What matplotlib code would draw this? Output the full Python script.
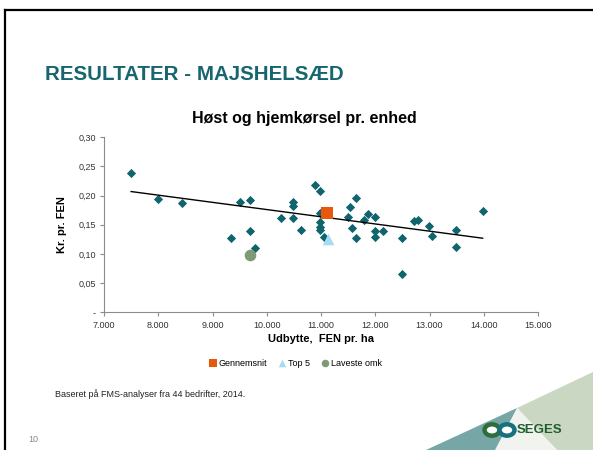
"""
Scatter of harvest cost per FEN vs. yield for maize silage (slide 10).
Saves out.png.
"""

import matplotlib

matplotlib.use("Agg")
import matplotlib.pyplot as plt
from matplotlib.patches import Circle, Polygon

plt.rcParams["font.family"] = ["Liberation Sans", "DejaVu Sans"]

# yield (FEN/ha) and cost (kr./FEN) per farm
yield_fen = [
    7500, 8000, 8440, 9350, 9500, 9700, 9700, 9790, 10270, 10490,
    10490, 10490, 10640, 10890, 10990, 10990, 10990, 10990, 10990, 11050,
    11500, 11540, 11580, 11640, 11640, 11790, 11870, 11990, 11990, 11990,
    12140, 12490, 12490, 12710, 12790, 12990, 13040, 13490, 13490, 13980,
]
cost_fen = [
    0.239, 0.194, 0.187, 0.127, 0.189, 0.192, 0.140, 0.111, 0.162, 0.189,
    0.182, 0.162, 0.141, 0.219, 0.208, 0.170, 0.155, 0.146, 0.141, 0.129,
    0.164, 0.180, 0.145, 0.196, 0.128, 0.158, 0.168, 0.163, 0.139, 0.129,
    0.140, 0.127, 0.065, 0.156, 0.159, 0.148, 0.131, 0.141, 0.112, 0.173,
]

# linear trendline as drawn in the source chart
trend_x = [7500, 13980]
trend_y = [0.207, 0.127]

avg_point = (11110, 0.170)    # Gennemsnit
top5_point = (11120, 0.125)   # Top 5
lowest_point = (9690, 0.099)  # Laveste omk

x_ticks = [7000, 8000, 9000, 10000, 11000, 12000, 13000, 14000, 15000]
y_ticks = [0.0, 0.05, 0.10, 0.15, 0.20, 0.25, 0.30]

TEAL = "#0f646e"
AXIS_GRAY = "#8c8c8c"

fig = plt.figure(figsize=(5.93, 4.5), dpi=100)
W, H = 593, 450


def fx(px):
    return px / W


def fy(py):
    return 1 - py / H


# slide frame
fig.add_artist(plt.Line2D([fx(5), fx(5)], [fy(10), 0], color="black", lw=1.6,
                          transform=fig.transFigure))
fig.add_artist(plt.Line2D([fx(5), 1], [fy(10), fy(10)], color="black", lw=1.6,
                          transform=fig.transFigure))

fig.text(fx(45), fy(75), "RESULTATER - MAJSHELSÆD", color="#17666f",
         fontsize=14.8, fontweight="bold", va="center", ha="left")

fig.text(fx(304), fy(118), "Høst og hjemkørsel pr. enhed", fontsize=11.5,
         fontweight="bold", ha="center", va="center")

ax = fig.add_axes([fx(104), fy(312.3), fx(538 - 104), (312.3 - 137.3) / H])

ax.scatter(yield_fen, cost_fen, marker="D", s=22, color=TEAL, linewidths=0, zorder=3)
ax.plot(trend_x, trend_y, color="black", lw=1.0, zorder=4)

ax.scatter(*avg_point, marker="s", s=70, color="#e8580c", linewidths=0, zorder=5,
           label="Gennemsnit")
ax.scatter(*top5_point, marker="^", s=70, color="#a6dbf5", linewidths=0, zorder=5,
           label="Top 5")
ax.scatter(*lowest_point, marker="o", s=70, color="#7e9b76", linewidths=0, zorder=5,
           label="Laveste omk")

ax.set_xlim(7000, 15000)
ax.set_ylim(0, 0.30)
ax.set_xticks(x_ticks)
ax.set_xticklabels([f"{v:,}".replace(",", ".") for v in x_ticks])
ax.set_yticks(y_ticks)
ax.set_yticklabels(["-"] + [f"{v:.2f}".replace(".", ",") for v in y_ticks[1:]])
ax.tick_params(labelsize=6.5, colors=AXIS_GRAY, labelcolor="#333333",
               length=3, width=0.8, pad=3)
for side in ("top", "right"):
    ax.spines[side].set_visible(False)
for side in ("left", "bottom"):
    ax.spines[side].set_color(AXIS_GRAY)
    ax.spines[side].set_linewidth(0.8)

ax.set_xlabel("Udbytte,  FEN pr. ha", fontsize=8, fontweight="bold", labelpad=3)
ax.set_ylabel("Kr. pr. FEN", fontsize=8, fontweight="bold", labelpad=8)

fig.legend(loc="center", bbox_to_anchor=(fx(295), fy(363)), ncol=3, frameon=False,
           fontsize=6.5, handletextpad=0.1, columnspacing=1.2, markerscale=0.65,
           handlelength=1.0)

fig.text(fx(55), fy(394), "Baseret på FMS-analyser fra 44 bedrifter, 2014.",
         fontsize=6.5, va="center", color="#222222")
fig.text(fx(28), fy(440), "10", fontsize=6.5, va="center", color="#888888")


# decorative corner with logo
def px_poly(points, **kw):
    fig.add_artist(Polygon([(fx(x), fy(y)) for x, y in points], closed=True,
                           transform=fig.transFigure, **kw))


px_poly([(517, 408), (593, 372), (593, 450), (557, 450)], facecolor="#c9d7c3",
        edgecolor="none")
px_poly([(517, 408), (557, 450), (495, 450)], facecolor="#f1f4ee", edgecolor="none")
px_poly([(517, 408), (495, 450), (426, 450)], facecolor="#76a7a6", edgecolor="none")

for cx, col in ((492, "#2f6e3c"), (507, "#17707d")):
    fig.add_artist(Circle((fx(cx), fy(430)), radius=fx(7.5), transform=fig.transFigure,
                          facecolor="white", edgecolor=col, linewidth=3.2))
fig.text(fx(517), fy(430), "SEGES", fontsize=9.5, fontweight="bold", color="#1f5f2f",
         va="center", ha="left")

fig.savefig("out.png", dpi=100)
